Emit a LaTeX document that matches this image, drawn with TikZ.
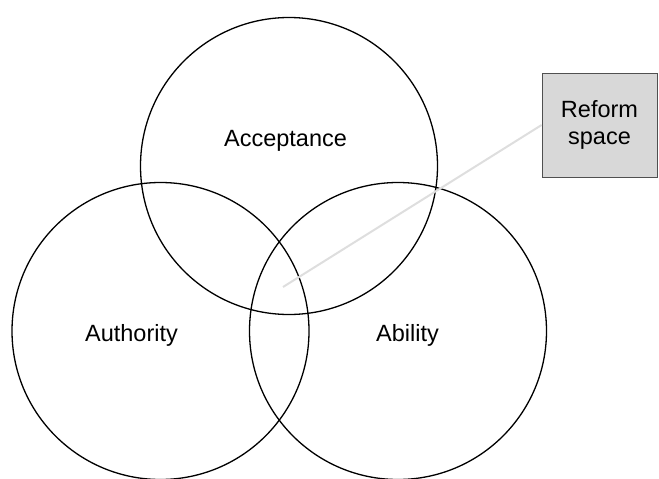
\documentclass[tikz,border=0pt]{standalone}
\usepackage{fontspec}
\setmainfont{Liberation Sans}
\usepackage{tikz}
\definecolor{boxgray}{RGB}{216, 216, 216}
\definecolor{linegray}{RGB}{222, 222, 222}
\definecolor{edgegray}{RGB}{80, 80, 80}
\tikzset{
  venn/.style={draw, circle, line width=1.3pt, minimum size=297pt, inner sep=0pt},
  vennlabel/.style={font=\fontsize{23.5}{27}\selectfont, inner sep=0pt, anchor=base},
  reformbox/.style={draw=edgegray, fill=boxgray, line width=0.8pt, minimum width=115pt,
    minimum height=104pt, align=center, font=\fontsize{23.5}{27}\selectfont},
}

\begin{document}
\begin{tikzpicture}[x=1pt, y=-1pt]
\useasboundingbox (0,0) rectangle (659,479);
\node[venn] (acceptance) at (289,166) {};
\node[venn] (authority) at (160.5,331) {};
\node[venn] (ability) at (398,331) {};

\node[vennlabel] (acceptancetext) at (285.5,146) {Acceptance};
\node[vennlabel] (authoritytext) at (131.5,341.5) {Authority};
\node[vennlabel] (abilitytext) at (407.5,341.5) {Ability};

\node[reformbox] (reform) at (599.5,125) {Reform\\space};
\coordinate (core) at (283,287);
\draw[linegray, line width=2pt] (reform.west) -- (core);
\end{tikzpicture}
\end{document}
